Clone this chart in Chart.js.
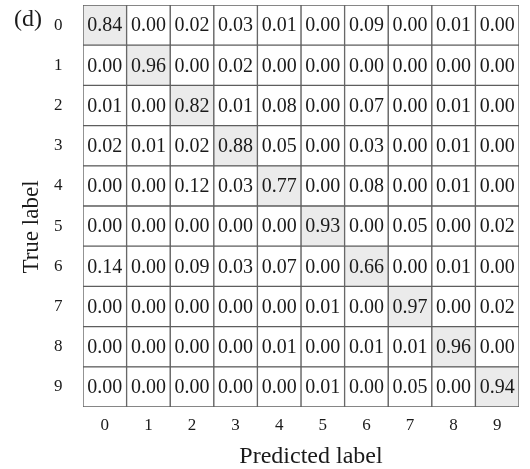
<!DOCTYPE html>
<html>
<head>
<meta charset="utf-8">
<script src="https://cdn.jsdelivr.net/npm/chart.js@4"></script>
<style>
  body { margin: 0; background: #fff; }
  #wrap { width: 530px; height: 469px; position: relative; }
</style>
</head>
<body>
<div id="wrap"><canvas id="cm"></canvas></div>
<script>
// Labels and confusion matrix values (rows = true label, columns = predicted)
const predLabels = ['0', '1', '2', '3', '4', '5', '6', '7', '8', '9'];
const trueLabels = ['0', '1', '2', '3', '4', '5', '6', '7', '8', '9'];
const matrix = [
    [0.84, 0.00, 0.02, 0.03, 0.01, 0.00, 0.09, 0.00, 0.01, 0.00],
    [0.00, 0.96, 0.00, 0.02, 0.00, 0.00, 0.00, 0.00, 0.00, 0.00],
    [0.01, 0.00, 0.82, 0.01, 0.08, 0.00, 0.07, 0.00, 0.01, 0.00],
    [0.02, 0.01, 0.02, 0.88, 0.05, 0.00, 0.03, 0.00, 0.01, 0.00],
    [0.00, 0.00, 0.12, 0.03, 0.77, 0.00, 0.08, 0.00, 0.01, 0.00],
    [0.00, 0.00, 0.00, 0.00, 0.00, 0.93, 0.00, 0.05, 0.00, 0.02],
    [0.14, 0.00, 0.09, 0.03, 0.07, 0.00, 0.66, 0.00, 0.01, 0.00],
    [0.00, 0.00, 0.00, 0.00, 0.00, 0.01, 0.00, 0.97, 0.00, 0.02],
    [0.00, 0.00, 0.00, 0.00, 0.01, 0.00, 0.01, 0.01, 0.96, 0.00],
    [0.00, 0.00, 0.00, 0.00, 0.00, 0.01, 0.00, 0.05, 0.00, 0.94]
];

const serif = "'Liberation Serif', 'Times New Roman', serif";
const textColor = '#1a1a1a';

// each predicted column is one stacked segment, one unit wide
const datasets = predLabels.map((p, j) => ({
    label: p,
    data: trueLabels.map(() => 1),
    backgroundColor: trueLabels.map((t, i) => i === j ? '#ebebeb' : '#ffffff'),
    borderColor: '#5e5e5e',
    borderWidth: 1,
    borderSkipped: false
}));

// cell numbers, panel tag and axis titles
const cellText = {
    id: 'cellText',
    afterDatasetsDraw(chart) {
        const c = chart.ctx;
        const area = chart.chartArea;
        c.save();
        c.fillStyle = textColor;
        c.textAlign = 'center';
        c.textBaseline = 'middle';
        c.font = '20px ' + serif;
        chart.data.datasets.forEach((ds, j) => {
            chart.getDatasetMeta(j).data.forEach((bar, i) => {
                const cx = (bar.x + bar.base) / 2;
                c.fillText(matrix[i][j].toFixed(2), cx, bar.y + 1);
            });
        });

        c.font = '24px ' + serif;
        c.textAlign = 'left';
        c.fillText('(d)', 14, 20);

        c.font = '24px ' + serif;
        c.textAlign = 'center';
        c.fillText('Predicted label', (area.left + area.right) / 2 + 10, 457);

        c.font = '23px ' + serif;
        c.translate(32, (area.top + area.bottom) / 2 + 21);
        c.rotate(-Math.PI / 2);
        c.fillText('True label', 0, 0);
        c.restore();
    }
};

new Chart(document.getElementById('cm'), {
    type: 'bar',
    data: { labels: trueLabels, datasets: datasets },
    options: {
        indexAxis: 'y',
        responsive: true,
        maintainAspectRatio: false,
        animation: false,
        datasets: { bar: { barPercentage: 1, categoryPercentage: 1 } },
        layout: { autoPadding: false, padding: { top: 5, right: 11, left: 54, bottom: 38 } },
        plugins: { legend: { display: false }, tooltip: { enabled: false } },
        scales: {
            x: {
                stacked: true,
                min: 0,
                max: 10,
                border: { display: false },
                grid: { display: false, drawTicks: false },
                afterBuildTicks(axis) {
                    axis.ticks = predLabels.map((p, i) => ({ value: i + 0.5 }));
                },
                afterFit(axis) {
                    axis.height = 24;
                    axis.paddingLeft = 0;
                    axis.paddingRight = 0;
                },
                ticks: {
                    autoSkip: false,
                    maxRotation: 0,
                    padding: 8,
                    color: textColor,
                    font: { family: serif, size: 17 },
                    callback: (v) => predLabels[Math.floor(v)]
                }
            },
            y: {
                stacked: true,
                border: { display: false },
                grid: { display: false, drawTicks: false },
                afterFit(axis) {
                    axis.width = 29;
                    axis.paddingTop = 0;
                    axis.paddingBottom = 0;
                },
                ticks: {
                    padding: 0,
                    crossAlign: 'far',
                    color: textColor,
                    font: { family: serif, size: 17 }
                }
            }
        }
    },
    plugins: [cellText]
});
</script>
</body>
</html>
